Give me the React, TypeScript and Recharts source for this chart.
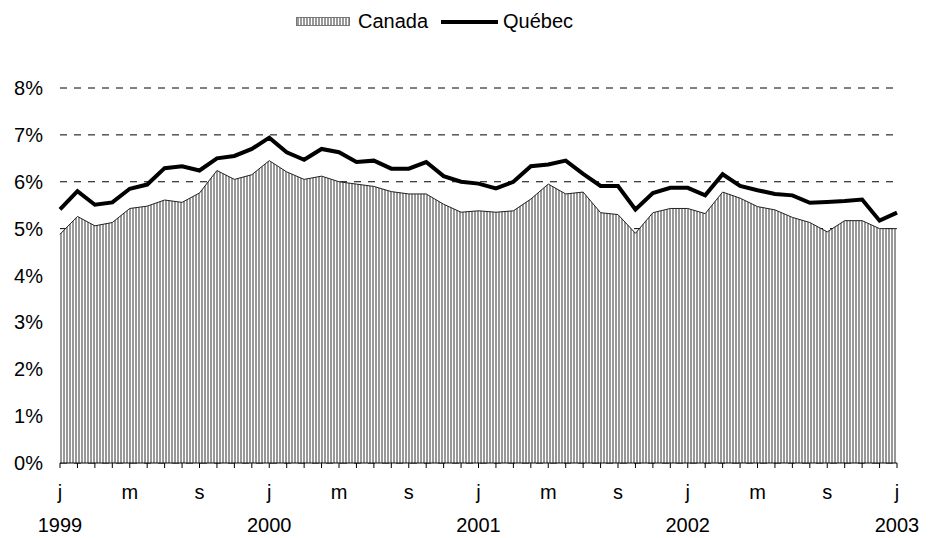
import { ComposedChart, Area, Line, XAxis, YAxis, CartesianGrid } from "recharts";

const YEARS = [1999, 2000, 2001, 2002, 2003];
const MONTH_LETTERS = ["j", "f", "m", "a", "m", "j", "j", "a", "s", "o", "n", "d"];
const LABELED_MONTHS = [0, 4, 8];
const Y_TICKS = [0, 1, 2, 3, 4, 5, 6, 7, 8];

// monthly rates, Jan 1999 to Jan 2003
const CANADA = [
  4.88, 5.26, 5.06, 5.13, 5.43, 5.48, 5.61, 5.56, 5.76, 6.24, 6.05, 6.15,
  6.45, 6.21, 6.05, 6.12, 6.0, 5.95, 5.9, 5.79, 5.74, 5.74, 5.52, 5.35,
  5.38, 5.35, 5.38, 5.63, 5.95, 5.74, 5.78, 5.34, 5.3, 4.9, 5.34, 5.43,
  5.43, 5.32, 5.78, 5.65, 5.47, 5.4, 5.24, 5.13, 4.93, 5.17, 5.17, 5.0,
  5.0,
];
const QUEBEC = [
  5.41, 5.8, 5.51, 5.56, 5.85, 5.94, 6.29, 6.33, 6.24, 6.5, 6.55, 6.7,
  6.94, 6.63, 6.47, 6.7, 6.63, 6.42, 6.45, 6.28, 6.28, 6.42, 6.12, 6.0,
  5.96, 5.86, 6.0, 6.33, 6.37, 6.45, 6.17, 5.91, 5.91, 5.41, 5.76, 5.87,
  5.87, 5.71, 6.16, 5.91, 5.82, 5.74, 5.71, 5.55, 5.57, 5.59, 5.62, 5.17,
  5.34,
];

const DATA = CANADA.map((c, i) => ({
  period: `${YEARS[Math.floor(i / 12)]}-${(i % 12) + 1}`,
  canada: c,
  quebec: QUEBEC[i],
}));

const FONT = "'Liberation Sans', Arial, sans-serif";

function MonthTick(props: any) {
  const { x, y, index } = props;
  const m = index % 12;
  if (!LABELED_MONTHS.includes(m)) return <g />;
  return (
    <g>
      <text x={x} y={y + 29} textAnchor="middle" fontSize={20} fill="#000" fontFamily={FONT}>
        {MONTH_LETTERS[m]}
      </text>
      {m === 0 && (
        <text x={x} y={y + 62} textAnchor="middle" fontSize={20} fill="#000" fontFamily={FONT}>
          {YEARS[Math.floor(index / 12)]}
        </text>
      )}
    </g>
  );
}

function ChartLegend() {
  return (
    <svg width={932} height={40} style={{ position: "absolute", left: 0, top: 0 }}>
      <defs>
        <pattern id="legendStripes" width={3} height={3} patternUnits="userSpaceOnUse">
          <rect width={3} height={3} fill="#fff" />
          <rect width={2} height={3} fill="#999" />
        </pattern>
      </defs>
      <rect x={296.5} y={17.5} width={53} height={8} fill="url(#legendStripes)" stroke="#777" />
      <text x={358} y={28} fontSize={20} fontFamily={FONT} fill="#000">
        Canada
      </text>
      <line x1={441} x2={498} y1={22} y2={22} stroke="#000" strokeWidth={4} />
      <text x={503} y={28} fontSize={20} fontFamily={FONT} fill="#000">
        Québec
      </text>
    </svg>
  );
}

export default function App() {
  return (
    <div style={{ position: "absolute", left: 0, top: 0, width: 932, height: 538, background: "#fff" }}>
      <ComposedChart
        width={932}
        height={538}
        data={DATA}
        margin={{ top: 88, right: 35, bottom: 0, left: 0 }}
      >
        <defs>
          <pattern id="stripes" width={3} height={3} patternUnits="userSpaceOnUse">
            <rect width={3} height={3} fill="#fff" />
            <rect width={2} height={3} fill="#999" />
          </pattern>
        </defs>
        <CartesianGrid vertical={false} stroke="#000" strokeDasharray="7 7" />
        <XAxis
          dataKey="period"
          scale="point"
          interval={0}
          height={75}
          tickSize={5}
          axisLine={{ stroke: "#000" }}
          tickLine={{ stroke: "#000" }}
          tick={<MonthTick />}
        />
        <YAxis
          width={60}
          domain={[0, 8]}
          ticks={Y_TICKS}
          axisLine={false}
          tickLine={false}
          tickSize={6}
          tickMargin={11}
          tickFormatter={(v: number) => `${v}%`}
          tick={{ fontSize: 20, fill: "#000", fontFamily: FONT }}
        />
        <Area
          type="linear"
          dataKey="canada"
          stroke="#222"
          strokeWidth={1}
          fill="url(#stripes)"
          fillOpacity={1}
          isAnimationActive={false}
        />
        <Line
          type="linear"
          dataKey="quebec"
          stroke="#000"
          strokeWidth={4}
          dot={false}
          isAnimationActive={false}
        />
      </ComposedChart>
      <ChartLegend />
    </div>
  );
}
